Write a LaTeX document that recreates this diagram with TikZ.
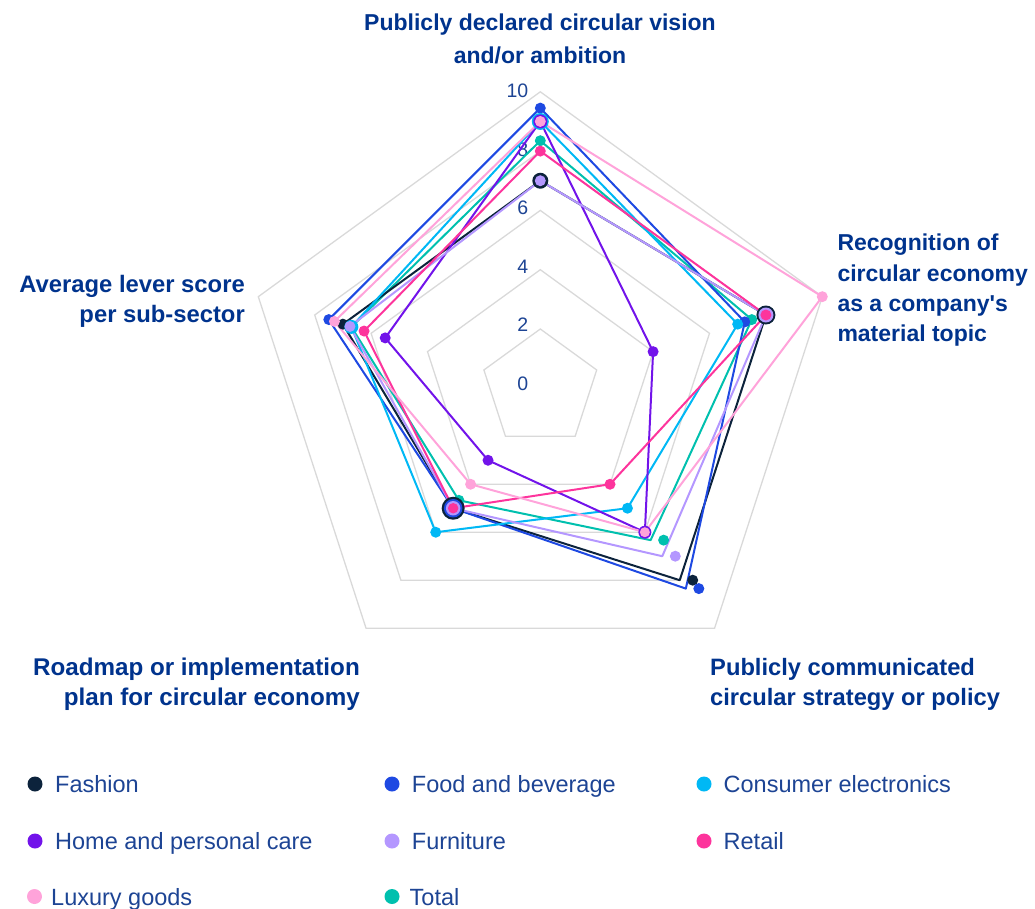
\documentclass[tikz,border=0pt]{standalone}
\usepackage{fontspec}
\setmainfont{Liberation Sans}
\usetikzlibrary{calc}
\definecolor{cfash}{HTML}{0C233C}
\definecolor{cfood}{HTML}{1E49E2}
\definecolor{ccons}{HTML}{00B8F5}
\definecolor{chome}{HTML}{7213EA}
\definecolor{cfurn}{HTML}{B497FF}
\definecolor{creta}{HTML}{FD349C}
\definecolor{cluxu}{HTML}{FFA3DA}
\definecolor{ctot}{HTML}{00C0AE}
\definecolor{cgrid}{HTML}{D9D9D9}
\definecolor{ctitle}{HTML}{00338D}
\definecolor{clabel}{HTML}{1D4494}
\newcommand\defser[6]{%
  \foreach \v [count=\k] in {#2,#3,#4,#5,#6}{%
    \coordinate (#1-\k) at ({540.3+29.65*\v*cos(162-72*\k)},{388.3-29.65*\v*sin(162-72*\k)});}}
\newcommand\putmk[5]{\node[mk={#3}{#4}] (#1-m#2) at ($(#1-#2)+(#5,0)$) {};}
\newcommand\serpath[2]{\draw[serline=#2] (#1-1) -- (#1-2) -- (#1-3) -- (#1-4) -- (#1-5) -- cycle;}
\tikzset{
  gridline/.style={draw=cgrid, line width=1.3pt, line join=miter},
  serline/.style={draw=#1, line width=2pt, line join=round},
  mk/.style 2 args={circle, fill=#1, inner sep=0pt, minimum size=#2pt},
  ttl/.style={font=\fontsize{#1}{28}\selectfont\bfseries, text=ctitle, inner sep=0pt},
  ttl/.default=23,
  tick/.style={font=\fontsize{19.5}{24}\selectfont, text=clabel, inner sep=0pt, anchor=base east},
  legdot/.style={circle, fill=#1, inner sep=0pt, minimum size=15pt},
  legtxt/.style={font=\fontsize{23.5}{28}\selectfont, text=clabel, inner sep=0pt, anchor=base west},
}
\begin{document}
\begin{tikzpicture}[x=1pt,y=-1pt]
\useasboundingbox (0,0) rectangle (1035,909);
% grid rings
\foreach \r in {2,4,6,8,10}{%
  \defser{ring\r}{\r}{\r}{\r}{\r}{\r}
  \draw[gridline] (ring\r-1) -- (ring\r-2) -- (ring\r-3) -- (ring\r-4) -- (ring\r-5) -- cycle;
}
% tick labels
\node[tick] (tk0) at (528.5,390.5) {0};
\node[tick] (tk2) at (528.5,331.5) {2};
\node[tick] (tk4) at (528.5,273) {4};
\node[tick] (tk6) at (528.5,215) {6};
\node[tick] (tk8) at (528.5,157) {8};
\node[tick] (tk10) at (528.5,97.5) {10};
% data
\defser{fash}{7}{8}{8}{5}{7}
\defser{food}{9.45}{7.25}{8.35}{5}{7.5}
\defser{cons}{9}{7}{5}{6}{6.7}
\defser{home}{9}{4}{6}{3}{5.5}
\defser{furn}{7}{8}{7}{5}{6.75}
\defser{reta}{8}{8}{4}{5}{6.25}
\defser{luxu}{9}{10}{6}{4}{7.3}
\defser{tot}{8.35}{7.5}{6.33}{4.67}{6.7}
% lines
\serpath{tot}{ctot}
\serpath{fash}{cfash}
\serpath{food}{cfood}
\serpath{cons}{ccons}
\serpath{home}{chome}
\serpath{furn}{cfurn}
\serpath{reta}{creta}
\serpath{luxu}{cluxu}
% markers
\putmk{tot}{1}{ctot}{11}{0}
\putmk{tot}{2}{ctot}{11}{0}
\putmk{tot}{3}{ctot}{11}{13}
\putmk{tot}{4}{ctot}{11}{0}
\putmk{tot}{5}{ctot}{11}{0}
\putmk{fash}{1}{cfash}{16}{0}
\putmk{fash}{2}{cfash}{19}{0}
\putmk{fash}{3}{cfash}{11}{13}
\putmk{fash}{4}{cfash}{23}{0}
\putmk{fash}{5}{cfash}{11}{0}
\putmk{food}{1}{cfood}{11}{0}
\putmk{food}{2}{cfood}{11}{0}
\putmk{food}{3}{cfood}{11}{13}
\putmk{food}{4}{cfood}{18.5}{0}
\putmk{food}{5}{cfood}{11}{0}
\putmk{cons}{1}{ccons}{17}{0}
\putmk{cons}{2}{ccons}{11}{0}
\putmk{cons}{3}{ccons}{11}{0}
\putmk{cons}{4}{ccons}{11}{0}
\putmk{cons}{5}{ccons}{14}{0}
\putmk{home}{1}{chome}{14}{0}
\putmk{home}{2}{chome}{11}{0}
\putmk{home}{3}{chome}{13}{0}
\putmk{home}{4}{chome}{11}{0}
\putmk{home}{5}{chome}{11}{0}
\putmk{furn}{1}{cfurn}{11}{0}
\putmk{furn}{2}{cfurn}{15}{0}
\putmk{furn}{3}{cfurn}{11}{13}
\putmk{furn}{4}{cfurn}{14.5}{0}
\putmk{furn}{5}{cfurn}{11}{0}
\putmk{reta}{1}{creta}{11}{0}
\putmk{reta}{2}{creta}{11}{0}
\putmk{reta}{3}{creta}{11}{0}
\putmk{reta}{4}{creta}{10.5}{0}
\putmk{reta}{5}{creta}{11}{0}
\putmk{luxu}{1}{cluxu}{11}{0}
\putmk{luxu}{2}{cluxu}{11}{0}
\putmk{luxu}{3}{cluxu}{10}{0}
\putmk{luxu}{4}{cluxu}{11}{0}
\putmk{luxu}{5}{cluxu}{11}{0}
% axis titles
\node[ttl, anchor=base] (tA1) at (540,31) {Publicly declared circular vision};
\node[ttl, anchor=base] (tA2) at (540,63.3) {and/or ambition};
\node[ttl, anchor=base west] (tB1) at (837.3,251) {Recognition of};
\node[ttl, anchor=base west] (tB2) at (837.3,281) {circular economy};
\node[ttl, anchor=base west] (tB3) at (837.3,311) {as a company\textquotesingle s};
\node[ttl, anchor=base west] (tB4) at (837.3,341) {material topic};
\node[ttl=23.7, anchor=base west] (tC1) at (710,675) {Publicly communicated};
\node[ttl=23.7, anchor=base west] (tC2) at (710,705) {circular strategy or policy};
\node[ttl=24.2, anchor=base east] (tD1) at (360,675) {Roadmap or implementation};
\node[ttl=24.2, anchor=base east] (tD2) at (360,705) {plan for circular economy};
\node[ttl=23.8, anchor=base east] (tE1) at (245,292) {Average lever score};
\node[ttl=23.8, anchor=base east] (tE2) at (245,322) {per sub-sector};
% legend
\node[legdot=cfash] (ld1) at (35,784) {};
\node[legtxt] (lt1) at (55,792.3) {Fashion};
\node[legdot=cfood] (ld2) at (392,784) {};
\node[legtxt] (lt2) at (411.7,792.3) {Food and beverage};
\node[legdot=ccons] (ld3) at (704,784) {};
\node[legtxt] (lt3) at (723.5,792.3) {Consumer electronics};
\node[legdot=chome] (ld4) at (35,841) {};
\node[legtxt] (lt4) at (55,849.3) {Home and personal care};
\node[legdot=cfurn] (ld5) at (392,841) {};
\node[legtxt] (lt5) at (411.7,849.3) {Furniture};
\node[legdot=creta] (ld6) at (704,841) {};
\node[legtxt] (lt6) at (723.5,849.3) {Retail};
\node[legdot=cluxu] (ld7) at (34.5,896.5) {};
\node[legtxt] (lt7) at (51,905) {Luxury goods};
\node[legdot=ctot] (ld8) at (392,896.5) {};
\node[legtxt] (lt8) at (409.5,905) {Total};
\end{tikzpicture}
\end{document}
